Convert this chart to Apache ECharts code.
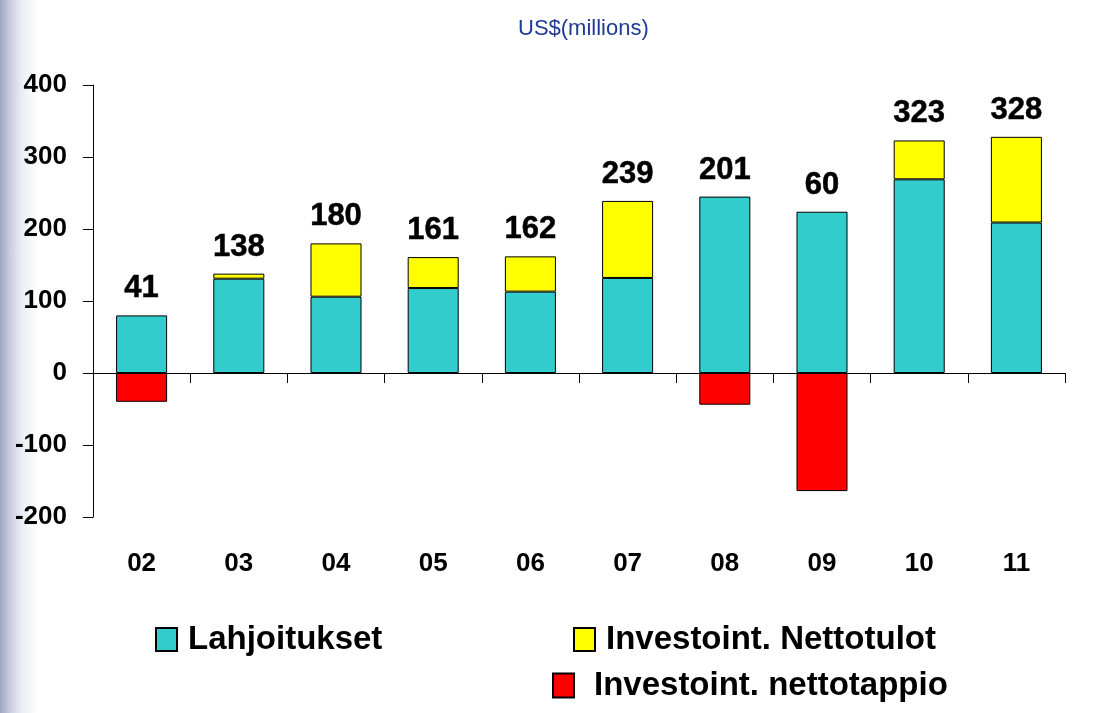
<!DOCTYPE html>
<html>
<head>
<meta charset="utf-8">
<script src="https://cdn.jsdelivr.net/npm/echarts@6/dist/echarts.min.js"></script>
<style>
html,body{margin:0;padding:0;width:1110px;height:713px;overflow:hidden;
background:linear-gradient(to right,#9ea6c5 0px,#c9cde0 10px,#eceef5 22px,#ffffff 38px);}
#main{width:1110px;height:713px;}
</style>
</head>
<body>
<div id="main"></div>
<script>
var categories = ['02','03','04','05','06','07','08','09','10','11'];
var lahjoitukset = [80, 131, 106, 118, 113, 132, 245, 224, 269, 209];
var nettotulot = [null, 7, 74, 43, 49, 107, null, null, 54, 119];
var nettotappio = [-40, null, null, null, null, null, -44, -164, null, null];
var totalLabels = ['41','138','180','161','162','239','201','60','323','328'];
var yTicks = [-200, -100, 0, 100, 200, 300, 400];

var FONT = 'Arial, "Liberation Sans", sans-serif';
var tops = lahjoitukset.map(function(v, i){ return v + (nettotulot[i] || 0); });

var chart = echarts.init(document.getElementById('main'), null, {renderer:'canvas'});
chart.setOption({
  backgroundColor: 'transparent',
  animation: false,
  title: {
    text: 'US$(millions)',
    left: 513, top: 13,
    textStyle: {fontFamily: FONT, fontSize: 22, fontWeight: 'normal', color: '#1f3b95'}
  },
  grid: {left: 93, right: 45, top: 85, bottom: 196, containLabel: false},
  legend: [
    {data: ['Lahjoitukset'], left: 155, top: 623, padding: 0, itemWidth: 21, itemHeight: 23, icon: 'rect',
     textStyle: {fontFamily: FONT, fontSize: 33, fontWeight: 'bold', color: '#000', padding: [0,0,0,6]}},
    {data: ['Investoint. Nettotulot'], left: 573, top: 623, padding: 0, itemWidth: 21, itemHeight: 23, icon: 'rect',
     textStyle: {fontFamily: FONT, fontSize: 33, fontWeight: 'bold', color: '#000', padding: [0,0,0,6]}},
    {data: ['Investoint. nettotappio'], left: 552, top: 669, padding: 0, itemWidth: 21, itemHeight: 24, icon: 'rect',
     textStyle: {fontFamily: FONT, fontSize: 33, fontWeight: 'bold', color: '#000', padding: [0,0,0,15]}}
  ],
  xAxis: [
    {type: 'category', data: categories, position: 'bottom',
     axisLine: {onZero: true, lineStyle: {color: '#000', width: 1}},
     axisTick: {show: true, inside: false, length: 10, alignWithLabel: false, lineStyle: {color: '#000'}},
     axisLabel: {show: false}},
    {type: 'category', data: categories, position: 'bottom',
     axisLine: {show: false, onZero: false}, axisTick: {show: false},
     axisLabel: {show: true, margin: 34, fontFamily: FONT, fontSize: 26, fontWeight: 'bold', color: '#000'}}
  ],
  yAxis: {
    type: 'value', min: -200, max: 400, interval: 100,
    axisLine: {show: true, lineStyle: {color: '#000', width: 1}},
    axisTick: {show: true, inside: false, length: 10, lineStyle: {color: '#000'}},
    splitLine: {show: false},
    axisLabel: {margin: 26, fontFamily: FONT, fontSize: 26, fontWeight: 'bold', color: '#000',
      formatter: function(v){ return yTicks.indexOf(v) >= 0 ? String(v) : ''; }}
  },
  series: [
    {name: 'Lahjoitukset', type: 'bar', stack: 'a', data: lahjoitukset, barWidth: '52.5%',
     itemStyle: {color: '#33cccc', borderColor: '#000', borderWidth: 1}},
    {name: 'Investoint. Nettotulot', type: 'bar', stack: 'a', data: nettotulot, barWidth: '52.5%',
     itemStyle: {color: '#ffff00', borderColor: '#000', borderWidth: 1}},
    {name: 'Investoint. nettotappio', type: 'bar', stack: 'a', data: nettotappio, barWidth: '52.5%',
     itemStyle: {color: '#ff0000', borderColor: '#000', borderWidth: 1}},
    {name: 'totals', type: 'scatter', data: tops, symbolSize: 0,
     itemStyle: {color: '#000', opacity: 1}, silent: true,
     label: {show: true, position: 'top', distance: 11, opacity: 1,
       fontFamily: FONT, fontSize: 31, fontWeight: 'bold', color: '#000',
       textBorderColor: '#000', textBorderWidth: 0.5,
       formatter: function(p){ return totalLabels[p.dataIndex]; }}}
  ]
});
</script>
</body>
</html>
